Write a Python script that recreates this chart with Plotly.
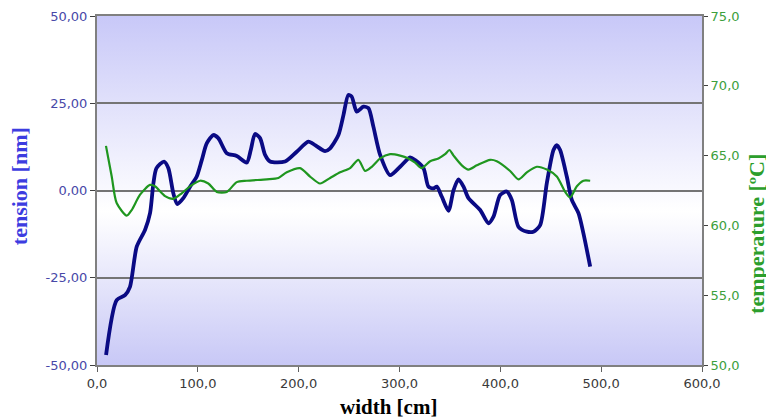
import base64
import plotly.graph_objects as go

# ---- data ----
tension_width = [9, 19.5, 27.8, 32.7, 39.4, 47.6, 52.6, 55.9, 59, 66.5,
                 70.8, 75.7, 79.7, 85.6, 92.3, 98.9, 103.9, 108.8, 115.4, 120.3,
                 128.7, 138.6, 148.5, 152.5, 156.7, 161.7, 166.7, 171.6, 186.5, 198.1,
                 209.6, 216.3, 226.2, 231.2, 239.4, 244.4, 249.3, 252.6, 257.6, 264.2,
                 269.2, 274.1, 280.8, 290.7, 300.6, 310.5, 315.5, 323.8, 328.7, 333.7,
                 337, 342, 348.6, 353.6, 358.5, 363.5, 368.4, 380, 388.2, 393.2,
                 399.8, 406.4, 411.4, 418, 426.3, 432.8, 439.5, 446.1, 452.7, 456,
                 459.3, 465.9, 470.9, 477.5, 482.4, 489.1]
tension = [-47.1, -31.4, -30, -27.6, -16.1, -11.3, -6.5, 2, 6.4, 8.3,
           6.4, -0.8, -3.9, -2.2, 1.1, 4, 8.7, 13.5, 15.9, 15,
           10.7, 9.9, 8, 11.6, 16.2, 15, 10.2, 8.3, 8.3, 11.1,
           14, 13, 11.3, 12.1, 15.9, 21.6, 27.4, 26.9, 22.6, 24,
           23.6, 18.3, 10.2, 4.4, 6.8, 9.5, 8.7, 6.4, 1.1, 0.6,
           1.1, -1.8, -5.8, 0.1, 3.2, 1.1, -2.2, -5.6, -9.4, -7.5,
           -1.3, -0.3, -2.7, -10.4, -11.8, -11.8, -9.9, 2.1, 11.6, 13,
           11.6, 4, -2.7, -6.5, -12.3, -21.8]

temp_width = [8.9, 14.6, 19.5, 29.5, 34.4, 42.7, 52.6, 57.5, 67.5, 75.7,
              84, 92.3, 102.2, 110.4, 118.8, 128.7, 138.6, 148.5, 168.4, 179.9,
              188.2, 201.4, 211.3, 221.2, 231.2, 241.1, 251, 259.2, 265.9, 272.5,
              280.8, 290.7, 300.6, 308.8, 315.5, 322, 330.4, 338.6, 345.2, 349.5,
              353.6, 361.8, 368.4, 376.7, 389.9, 396.5, 409.7, 418, 426.3, 436.2,
              446.1, 456, 464.3, 469.2, 475.9, 482.4, 489.1]
temperature = [65.7, 63.5, 61.6, 60.7, 61.1, 62.2, 62.9, 62.8, 62.1, 61.9,
               62.3, 62.8, 63.2, 63, 62.4, 62.4, 63.1, 63.2, 63.3, 63.4,
               63.8, 64.1, 63.5, 63, 63.4, 63.8, 64.1, 64.7, 63.9, 64.2,
               64.8, 65.1, 65, 64.8, 64.5, 64.1, 64.6, 64.8, 65.1, 65.4,
               65, 64.3, 64, 64.3, 64.7, 64.6, 63.9, 63.3, 63.8, 64.2,
               64, 63.5, 62.4, 62, 62.8, 63.2, 63.2]

tension_ticks = [-50, -25, 0, 25, 50]
tension_ticktext = ["-50,00", "-25,00", "0,00", "25,00", "50,00"]
temp_ticks = [50, 55, 60, 65, 70, 75]
temp_ticktext = ["50,0", "55,0", "60,0", "65,0", "70,0", "75,0"]
width_ticks = [0, 100, 200, 300, 400, 500, 600]
width_ticktext = ["0,0", "100,0", "200,0", "300,0", "400,0", "500,0", "600,0"]

# ---- background gradient ----
svg = ('<svg xmlns="http://www.w3.org/2000/svg" width="100" height="100" '
       'viewBox="0 0 100 100" preserveAspectRatio="none"><defs>'
       '<linearGradient id="g" x1="0" y1="0" x2="0" y2="1">'
       '<stop offset="0" stop-color="#c8c8f8"/>'
       '<stop offset="0.56" stop-color="#ffffff"/>'
       '<stop offset="1" stop-color="#c8c8f6"/>'
       '</linearGradient></defs>'
       '<rect x="0" y="0" width="100" height="100" fill="url(#g)"/></svg>')
bg_src = "data:image/svg+xml;base64," + base64.b64encode(svg.encode()).decode()

fig = go.Figure()
fig.add_trace(go.Scatter(
    x=temp_width, y=temperature, yaxis="y2", mode="lines",
    line=dict(color="#1f961f", width=2.2, shape="spline", smoothing=0.7),
    showlegend=False, hoverinfo="skip"))
fig.add_trace(go.Scatter(
    x=tension_width, y=tension, mode="lines",
    line=dict(color="#0a0a84", width=3.8, shape="spline", smoothing=0.7),
    showlegend=False, hoverinfo="skip"))

tick_font = "DejaVu Sans"
title_font = "Liberation Serif"

fig.update_layout(
    width=766, height=412,
    margin=dict(l=89, r=72, t=8, b=55),
    paper_bgcolor="white", plot_bgcolor="rgba(0,0,0,0)",
    images=[dict(source=bg_src, xref="paper", yref="paper", x=0, y=1,
                 sizex=1, sizey=1, sizing="stretch", layer="below",
                 xanchor="left", yanchor="top")],
    xaxis=dict(range=[0, 600], tickvals=width_ticks, ticktext=width_ticktext,
               automargin=False, showgrid=False, zeroline=False,
               showline=True, linecolor="#808080", linewidth=2, mirror=True,
               ticks="outside", ticklen=5, tickcolor="#606060", tickwidth=1,
               tickfont=dict(family=tick_font, size=13, color="#3a3a3a")),
    yaxis=dict(range=[-50, 50], tickvals=tension_ticks, ticktext=tension_ticktext,
               automargin=False, showgrid=True, gridcolor="#747474", gridwidth=2,
               zeroline=False, showline=True, linecolor="#808080", linewidth=2,
               ticks="outside", ticklen=5, tickcolor="#404040", tickwidth=1,
               tickfont=dict(family=tick_font, size=13, color="#4848a8")),
    yaxis2=dict(range=[50, 75], tickvals=temp_ticks, ticktext=temp_ticktext,
                automargin=False, overlaying="y", side="right", showgrid=False,
                zeroline=False, showline=True, linecolor="#808080", linewidth=2,
                ticks="outside", ticklen=4, tickcolor="#404040", tickwidth=1,
                tickfont=dict(family=tick_font, size=13, color="#3ca03c")),
    annotations=[
        dict(text="<b>tension [nm]</b>", xref="paper", yref="paper",
             x=-0.127, y=0.513, xanchor="center", yanchor="middle",
             textangle=-90, showarrow=False,
             font=dict(family=title_font, size=22, color="#3c3ce0")),
        dict(text="<b>temperature [ºC]</b>", xref="paper", yref="paper",
             x=1.09, y=0.377, xanchor="center", yanchor="middle",
             textangle=-90, showarrow=False,
             font=dict(family=title_font, size=22, color="#2c9e2c")),
        dict(text="<b>width [cm]</b>", xref="paper", yref="paper",
             x=0.481, y=-0.12, xanchor="center", yanchor="middle",
             showarrow=False,
             font=dict(family=title_font, size=21, color="#000000")),
    ],
)

fig.write_html("out.html")
